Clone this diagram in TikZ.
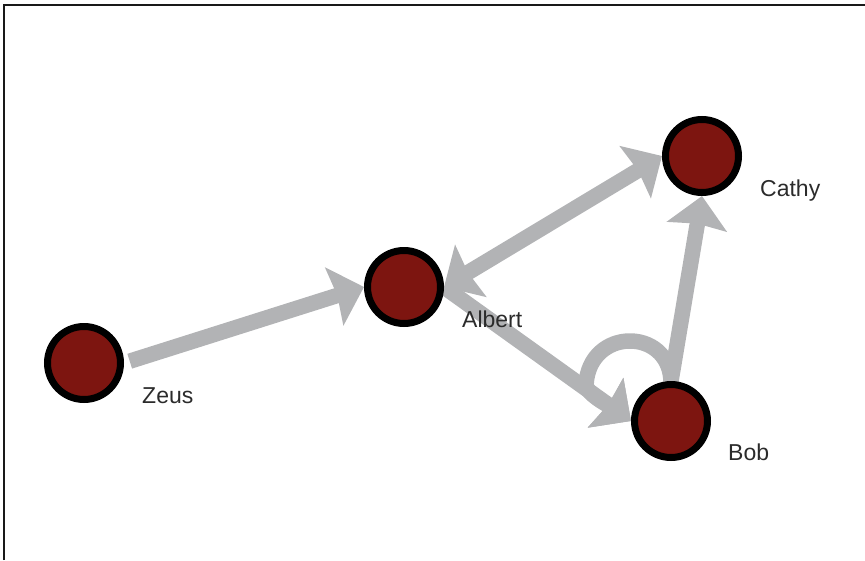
\documentclass[tikz,border=0pt]{standalone}
\usepackage{fontspec}
\setmainfont{Liberation Sans}
\usetikzlibrary{arrows.meta,calc}
\pgfdeclarelayer{edges}
\pgfsetlayers{edges,main}
\definecolor{nodefill}{HTML}{7D1510}
\definecolor{edgegray}{HTML}{B2B3B5}
\definecolor{labelgray}{HTML}{2B2B2B}
\tikzset{
  person/.style={circle, draw=black, line width=7pt, fill=nodefill, minimum size=73pt, inner sep=0pt},
  lbl/.style={anchor=base west, inner sep=0pt, text=labelgray, font=\fontsize{23}{27}\selectfont},
  edge/.style={draw=edgegray, line width=15.5pt, line cap=butt, -{Stealth[length=31pt, width=60pt, inset=3pt]}},
  biedge/.style={draw=edgegray, line width=15.5pt, line cap=butt,
    {Stealth[length=31pt, width=60pt, inset=3pt]}-{Stealth[length=31pt, width=60pt, inset=3pt]}}
}
\begin{document}
\begin{tikzpicture}[x=1pt, y=-1pt]
\useasboundingbox (0,0) rectangle (865,560);
\draw[line width=2pt, black!90] (3.5,560) -- (3.5,4.5) -- (865,4.5);

% nodes
\node[person] (zeus)   at (84,363)  {};
\node[person] (albert) at (404,287) {};
\node[person] (cathy)  at (702,156) {};
\node[person] (bob)    at (671,421) {};

% labels
\node[lbl] (zeuslbl)   at ($(zeus)+(58,40)$)   {Zeus};
\node[lbl] (albertlbl) at ($(albert)+(58,40)$) {Albert};
\node[lbl] (cathylbl)  at ($(cathy)+(58,40)$)  {Cathy};
\node[lbl] (boblbl)    at ($(bob)+(57,39)$)    {Bob};

% edges (behind nodes and labels)
\begin{pgfonlayer}{edges}
\draw[edge, shorten <=6pt] (zeus.east) -- (albert.west);
\draw[biedge] (albert.east) -- (cathy.west);
\draw[edge] (albert.east) -- (bob.west);
\draw[edge] (bob.north) -- (cathy.south);
\draw[edge] (bob.north) .. controls +(-2,-54) and +(3,-58) .. ($(bob.west)+(-45,-36)$)
  .. controls +(1,10) and ($(bob.west)!22pt!(albert.east)$) .. (bob.west);
\end{pgfonlayer}
\end{tikzpicture}
\end{document}
